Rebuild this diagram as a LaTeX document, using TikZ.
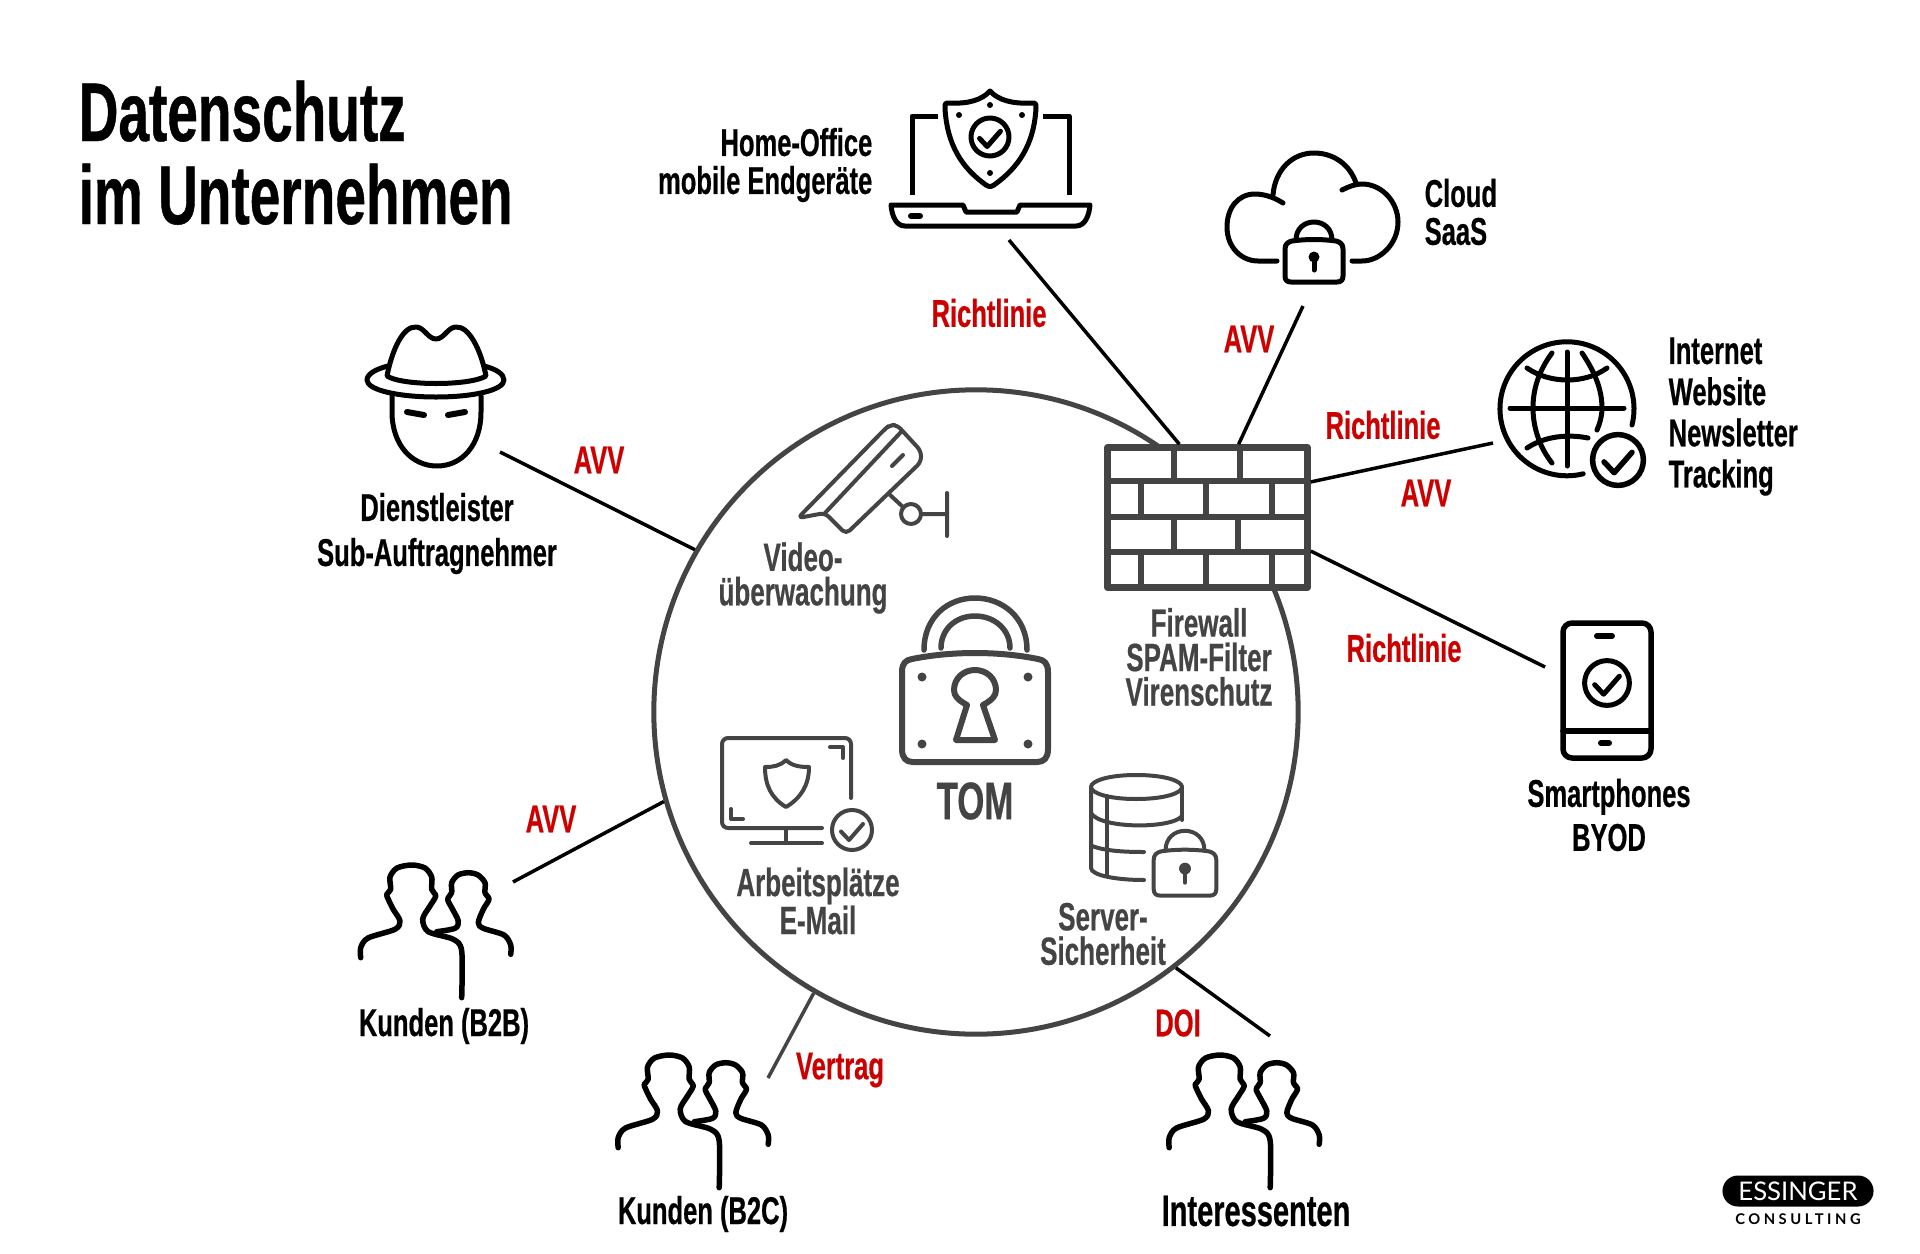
\documentclass[tikz,border=0pt]{standalone}
\usepackage{fontspec}
\newfontfamily\dinfont[FakeStretch=0.66,BoldFeatures={FakeBold=0.5}]{Liberation Sans}
\newfontfamily\logofont{Lato}
\tikzset{
	labeltext/.style={inner sep=0pt,font=\dinfont\fontsize{11}{10.8}\selectfont\bfseries},
	blacktext/.style={labeltext,text=black,align=center},
	graytext/.style={labeltext,text=iconGray,align=center,font=\dinfont\fontsize{11.2}{9.8}\selectfont\bfseries},
	redtext/.style={labeltext,text=ruleRed},
	blackicon/.style={color=black,line width=0.05cm,line cap=round,line join=round},
	grayicon/.style={color=iconGray,line width=0.04cm,line cap=round,line join=round},
	link/.style={line width=0.035cm,black},
	people/.pic={
		\draw plot[smooth,tension=0.5] coordinates {(20.7,116.7) (20.7,106.7) (28,97) (55,88.3) (60,80) (53,68) (48.3,58.3) (46.7,53.3) (50.7,48.3) (50,36) (57,27) (71.7,24) (85,27) (91.7,36) (91.7,48.3) (95.7,55) (90,65) (82.7,78) (88.3,90.7) (113.3,98.3) (121.7,110) (121.7,156.7)};
		\draw plot[smooth,tension=0.5] coordinates {(96.7,90.7) (115,87.3) (118.3,80) (111.7,66.7) (107.7,58.3) (111.7,51.7) (111.7,41.7) (118,34) (128.3,31.7) (138,34) (145,41.7) (145,51.7) (149,58.3) (143.3,68.3) (138.3,81.7) (143.3,87.3) (164,94) (170.7,104) (170.7,113.3)};
	},
	checkdisc/.pic={
		\draw (0,0) circle[radius=20];
		\draw (-11,1.5) -- (-3,10) -- (11,-6);
	},
	padlock/.pic={
		\draw (-29,-13) .. controls (-29,-18) and (-26,-20) .. (-22,-21) .. controls (-8,-23) and (8,-23) .. (22,-21) .. controls (26,-20) and (29,-18) .. (29,-13) -- (29,14) .. controls (29,18) and (27,20) .. (23,20) -- (-23,20) .. controls (-27,20) and (-29,18) .. (-29,14) -- cycle;
		\draw (-18,-22) .. controls (-18,-33) and (-10,-40) .. (0,-40) .. controls (10,-40) and (18,-33) .. (18,-22);
		\fill (0,-5) circle[radius=5.5];
		\draw (0,-5) -- (0,8);
	}
}
\definecolor{iconGray}{HTML}{444444}
\definecolor{ruleRed}{HTML}{CC0000}
\begin{document}
\begin{tikzpicture}[x=0.01cm,y=-0.01cm]
	\useasboundingbox (0,0) rectangle (1920,1254);
	\fill[white] (0,0) rectangle (1920,1254);

	\node[circle,draw=iconGray,line width=0.05cm,minimum size=6.44cm,inner sep=0pt] (tom) at (976,712) {};
	\node[draw=iconGray,fill=white,line width=0.065cm,minimum width=2.0cm,minimum height=1.4cm,inner sep=0pt,line join=round] (firewall) at (1207.5,517.5) {};

	\draw[iconGray,line width=0.065cm]
		(1105,481) -- (1310,481) (1105,517) -- (1310,517) (1105,552) -- (1310,552)
		(1174,445) -- (1174,481) (1240,445) -- (1240,481)
		(1141,481) -- (1141,517) (1206,481) -- (1206,517) (1272,481) -- (1272,517)
		(1174,517) -- (1174,552) (1238,517) -- (1238,552)
		(1141,552) -- (1141,590) (1206,552) -- (1206,590) (1272,552) -- (1272,590);

	\coordinate (laptopEnd) at (1009,240);
	\coordinate (cloudEnd) at (1303,306);
	\coordinate (globeEnd) at (1493,443);
	\coordinate (phoneEnd) at (1545,667);
	\coordinate (spyEnd) at (500,452);
	\coordinate (btobEnd) at (513,882);
	\coordinate (btocEnd) at (768,1078);
	\coordinate (prospectEnd) at (1270,1036);

	\draw[link] (laptopEnd) -- (firewall.111);
	\draw[link] (cloudEnd) -- (firewall.67);
	\draw[link] (globeEnd) -- (firewall.19);
	\draw[link] (phoneEnd) -- (firewall.-18);
	\draw[link] (spyEnd) -- (tom.150);
	\draw[link] (btobEnd) -- (tom.196);
	\draw[link,iconGray] (btocEnd) -- (tom.240);
	\draw[link] (prospectEnd) -- (tom.308);

	\begin{scope}[blackicon]
		\draw (990,91) .. controls (998,100) and (1012,104) .. (1031,103) .. controls (1036,103) .. (1036,108) .. controls (1034,145) and (1018,168) .. (994,185) .. controls (991,187) and (989,187) .. (986,185) .. controls (962,168) and (947,145) .. (945,108) .. controls (945,103) .. (950,103) .. controls (968,104) and (982,100) .. (990,91) -- cycle;
		\fill (990,105) circle[radius=3] (959,115) circle[radius=3] (1022,115) circle[radius=3] (990,173) circle[radius=3];
		\pic[scale=0.95] at (990,137) {checkdisc};
		\draw[line cap=butt] (912,195) -- (912,116) -- (938,116) (1043,116) -- (1069,116) -- (1069,195);
		\draw (891,205) -- (963,205) -- (966,212) -- (1017,212) -- (1020,205) -- (1090,205) .. controls (1089,216) and (1085,226) .. (1076,226) -- (905,226) .. controls (896,226) and (892,216) .. (891,205) -- cycle;
		\draw[line width=0.06cm] (911,216) -- (920,216);

		\draw (1283,203) .. controls (1272,196) and (1262,194) .. (1255,194) .. controls (1238,194) and (1227,208) .. (1227,227) .. controls (1227,248) and (1242,261) .. (1258,261) -- (1277,261);
		\draw (1273,195) .. controls (1275,170) and (1292,153) .. (1314,153) .. controls (1334,153) and (1350,165) .. (1356,183);
		\draw (1342,190) .. controls (1350,186) and (1356,184) .. (1362,184) .. controls (1382,184) and (1398,202) .. (1398,222) .. controls (1398,244) and (1380,261) .. (1362,261) -- (1352,261);
		\pic at (1314,262) {padlock};

		\draw (1632,425) arc[start angle=14,end angle=-284,radius=67];
		\draw (1510,408) -- (1624,408) (1567,352) -- (1567,466);
		\draw (1552,353) .. controls (1538,372) and (1533,390) .. (1533,408) .. controls (1533,428) and (1540,448) .. (1552,463);
		\draw (1582,353) .. controls (1595,372) and (1602,390) .. (1602,408) .. controls (1602,416) and (1600,423) .. (1597,430);
		\draw (1527,368) .. controls (1550,384) and (1585,384) .. (1607,368);
		\draw (1527,448) .. controls (1545,436) and (1568,434) .. (1588,438);
		\pic[scale=1.27,line width=0.055cm] at (1618,460) {checkdisc};

		\draw[rounded corners=0.09cm,line width=0.055cm] (1563,623) rectangle (1651,758);
		\draw[line width=0.055cm] (1563,731) -- (1651,731);
		\draw[line width=0.06cm] (1597,636) -- (1612,636) (1601,743) -- (1609,743);
		\pic[scale=1.12] at (1607,683) {checkdisc};

		\draw (387,376) .. controls (392,350) and (403,326) .. (416,327) .. controls (424,327) and (428,339) .. (436,339) .. controls (444,339) and (448,327) .. (456,327) .. controls (469,326) and (481,350) .. (486,376) .. controls (470,386) and (402,386) .. (387,376) -- cycle;
		\draw (388,366) .. controls (376,369) and (367,374) .. (367,380) .. controls (367,390) and (398,397) .. (436,397) .. controls (474,397) and (504,390) .. (504,380) .. controls (504,374) and (496,369) .. (484,366);
		\draw (392,396) -- (392,412) .. controls (392,445) and (412,466) .. (437,466) .. controls (462,466) and (481,445) .. (481,412) -- (481,396);
		\draw[line width=0.06cm] (407,412) -- (424,415) (448,415) -- (465,412);

		\pic[line width=0.055cm] at (340,841) {people};
		\pic[line width=0.055cm] at (597.5,1031) {people};
		\pic[line width=0.055cm] at (1148.5,1031) {people};
	\end{scope}

	\begin{scope}[grayicon]
		\draw[rounded corners=0.05cm] (798,518) -- (885,429) -- (890,425) -- (897,425) -- (921,451) -- (921,462) -- (846,534) -- (825,513) -- cycle;
		\draw (825,513) -- (901,432) (892,466) -- (903,455);
		\draw (889,494) -- (903,507) (921,514) -- (947,514) (947,493) -- (947,536);
		\draw (911,514) circle[radius=10];

		\draw[rounded corners=0.06cm] (851,798) -- (851,738) -- (722,738) -- (722,828) -- (822,828);
		\draw (786,830) -- (786,843) (751,843) -- (822,843);
		\draw (830,747) -- (843,747) -- (843,758) (731,809) -- (731,819) -- (743,819);
		\draw (786,760) .. controls (780,766) and (773,767) .. (765,767) .. controls (765,785) and (771,798) .. (786,807) .. controls (801,798) and (809,785) .. (809,767) .. controls (800,767) and (792,766) .. (786,760) -- cycle;
		\pic at (852,830) {checkdisc};

		\draw[line width=0.06cm] (902,672) .. controls (902,663) and (906,660) .. (912,659) .. controls (952,651) and (998,651) .. (1038,659) .. controls (1044,660) and (1048,663) .. (1048,672) -- (1048,749) .. controls (1048,758) and (1044,762) .. (1037,762) -- (913,762) .. controls (906,762) and (902,758) .. (902,749) -- cycle;
		\draw[line width=0.055cm] (924,650) .. controls (924,617) and (948,598) .. (975,598) .. controls (1002,598) and (1027,617) .. (1027,650);
		\draw[line width=0.055cm] (941,648) .. controls (941,630) and (955,616) .. (975,616) .. controls (995,616) and (1010,630) .. (1010,648);
		\fill (922,677) circle[radius=4.5] (1028,677) circle[radius=4.5] (922,744) circle[radius=4.5] (1028,744) circle[radius=4.5];
		\draw[line width=0.06cm] (967,705) .. controls (958,700) and (954,696) .. (954,690) .. controls (954,678) and (964,670) .. (975,670) .. controls (986,670) and (996,678) .. (996,690) .. controls (996,696) and (992,700) .. (983,705) -- (995,740) -- (956,740) -- cycle;

		\draw (1136,775) .. controls (1165,775) and (1182,781) .. (1182,787) .. controls (1182,793) and (1165,799) .. (1136,799) .. controls (1108,799) and (1091,793) .. (1091,787) .. controls (1091,781) and (1108,775) .. (1136,775) -- cycle;
		\draw (1091,787) -- (1091,868) .. controls (1091,875) and (1115,880) .. (1144,880);
		\draw (1182,787) -- (1182,820);
		\draw (1091,813) .. controls (1100,829) and (1172,829) .. (1182,816);
		\draw (1092,846) .. controls (1105,851) and (1125,852) .. (1144,852);
		\draw (1107,796) -- (1107,876);
		\pic[scale=1.08] at (1185,874) {padlock};
	\end{scope}

	\node[labeltext,anchor=base west,font=\dinfont\fontsize{23.7}{23.6}\selectfont\bfseries,align=left] (title) at (78,224) {Datenschutz\\im Unternehmen};

	\node[blacktext,anchor=east,align=right] (laptopText) at (873,165) {Home-Office\\mobile Endgeräte};
	\node[blacktext,anchor=west,align=left] (cloudText) at (1424,212) {Cloud\\SaaS};
	\node[blacktext,anchor=west,align=left,font=\dinfont\fontsize{11}{11.7}\selectfont\bfseries] (globeText) at (1668,416.5) {Internet\\Website\\Newsletter\\Tracking};
	\node[blacktext,font=\dinfont\fontsize{11}{12.5}\selectfont\bfseries] (phoneText) at (1609,815) {Smartphones\\BYOD};
	\node[blacktext,font=\dinfont\fontsize{11}{12.8}\selectfont\bfseries] (spyText) at (437,533.5) {Dienstleister\\Sub-Auftragnehmer};
	\node[blacktext] (btobText) at (444,1026) {Kunden (B2B)};
	\node[blacktext] (btocText) at (703,1214) {Kunden (B2C)};
	\node[blacktext,font=\dinfont\fontsize{12.5}{12.5}\selectfont\bfseries] (prospectText) at (1256,1211) {Interessenten};

	\node[graytext] (cameraText) at (803,578) {Video-\\überwachung};
	\node[graytext] (firewallText) at (1199,657) {Firewall\\SPAM-Filter\\Virenschutz};
	\node[graytext,font=\dinfont\fontsize{15}{15}\selectfont\bfseries] (tomText) at (975,801) {TOM};
	\node[graytext,font=\dinfont\fontsize{11.2}{10.8}\selectfont\bfseries] (monitorText) at (818,901) {Arbeitsplätze\\E-Mail};
	\node[graytext] (serverText) at (1103,934) {Server-\\Sicherheit};

	\node[redtext] (ruleLaptop) at (989,313) {Richtlinie};
	\node[redtext] (avvCloud) at (1249,339) {AVV};
	\node[redtext] (ruleGlobe) at (1383,425) {Richtlinie};
	\node[redtext] (avvGlobe) at (1426,493) {AVV};
	\node[redtext] (rulePhone) at (1404,648) {Richtlinie};
	\node[redtext] (avvSpy) at (599,460) {AVV};
	\node[redtext] (avvBtob) at (551,819) {AVV};
	\node[redtext] (contractBtoc) at (840,1070) {Vertrag};
	\node[redtext] (doiProspect) at (1178,1023) {DOI};

	\node[fill=black,text=white,rounded corners=0.155cm,minimum width=1.51cm,minimum height=0.31cm,inner sep=0pt,font=\logofont\fontsize{7.3}{8}\selectfont] (logoName) at (1798,1191) {ESSINGER};
	\node[inner sep=0pt,font=\logofont\fontsize{4.2}{5}\selectfont\bfseries\addfontfeature{LetterSpace=24}] (logoSub) at (1798,1219) {CONSULTING};
\end{tikzpicture}
\end{document}
